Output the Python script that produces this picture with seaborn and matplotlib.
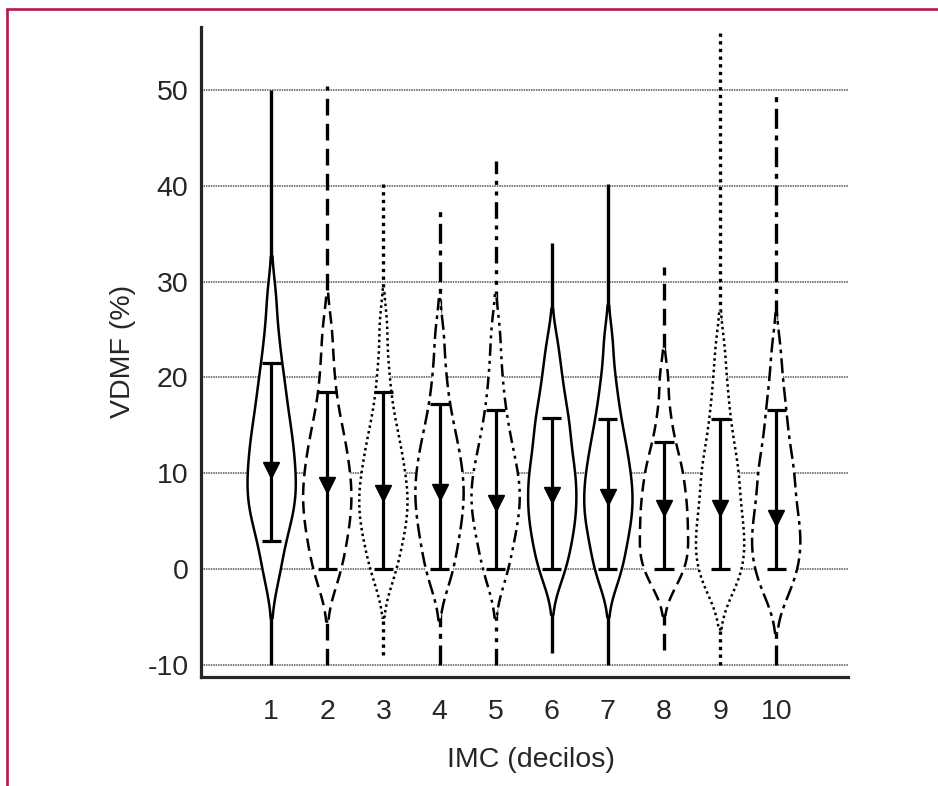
import numpy as np
import pandas as pd
import matplotlib
matplotlib.use("Agg")
import matplotlib.pyplot as plt
from matplotlib.lines import Line2D
import seaborn as sns

# ---------------------------------------------------------------------------
# Data
# core_* : quantile-like samples giving the body of each violin
# vdmf_min / vdmf_max : extremes reached by the thin tails
# ---------------------------------------------------------------------------

deciles = ["1", "2", "3", "4", "5", "6", "7", "8", "9", "10"]

core_d1 = [-1.0, 0.9, 2.8, 4.1, 5.2, 6.0, 6.8, 7.6, 8.4, 9.1, 9.9, 10.7,
           11.6, 12.5, 13.4, 14.2, 15.2, 16.4, 17.7, 19.0, 20.4, 22.4, 24.8, 28.6]
core_d2 = [-1.7, -0.4, 0.9, 1.9, 2.9, 3.8, 4.6, 5.4, 6.2, 6.9, 7.6, 8.3,
           9.1, 9.8, 10.6, 11.5, 12.4, 13.3, 14.3, 15.6, 17.1, 19.2, 21.8, 25.1]
core_d3 = [-1.4, -0.2, 1.1, 2.1, 3.0, 3.8, 4.6, 5.3, 6.0, 6.7, 7.3, 8.0,
           8.7, 9.4, 10.2, 11.0, 11.9, 12.8, 13.8, 15.0, 16.5, 18.6, 21.3, 25.5]
core_d4 = [-1.7, -0.4, 0.8, 1.9, 2.9, 3.8, 4.6, 5.4, 6.2, 6.9, 7.6, 8.3,
           9.0, 9.7, 10.5, 11.3, 12.1, 13.0, 14.0, 15.2, 16.6, 18.5, 21.0, 24.5]
core_d5 = [-1.4, -0.2, 1.1, 2.2, 3.1, 4.0, 4.8, 5.5, 6.2, 6.9, 7.6, 8.2,
           8.9, 9.6, 10.3, 11.1, 12.0, 13.0, 14.1, 15.4, 17.0, 19.0, 21.6, 25.0]
core_d6 = [-1.1, 0.2, 1.4, 2.4, 3.4, 4.3, 5.1, 5.8, 6.6, 7.4, 8.1, 8.9,
           9.7, 10.4, 11.2, 12.2, 13.2, 14.3, 15.3, 16.2, 17.6, 19.2, 21.0, 23.6]
core_d7 = [-1.4, -0.2, 1.0, 2.0, 3.0, 3.9, 4.7, 5.4, 6.1, 6.8, 7.5, 8.2,
           8.9, 9.6, 10.4, 11.2, 12.1, 13.0, 14.0, 15.2, 16.6, 18.3, 20.5, 24.0]
core_d8 = [-1.8, -1.0, -0.1, 0.6, 1.2, 1.8, 2.4, 3.0, 3.7, 4.4, 5.1, 5.8,
           6.3, 7.0, 7.7, 8.5, 9.3, 10.0, 10.8, 11.7, 12.9, 14.4, 16.6, 20.0]
core_d9 = [-2.5, -1.6, -0.8, 0.1, 0.8, 1.5, 2.2, 2.9, 3.7, 4.4, 5.1, 6.0,
           6.8, 7.8, 8.8, 9.8, 10.4, 11.5, 12.7, 14.1, 15.6, 17.6, 19.9, 23.2]
core_d10 = [-2.9, -1.8, -0.9, 0.05, 0.75, 1.45, 2.15, 2.85, 3.6, 4.25, 5.0, 5.8,
            6.65, 7.6, 8.6, 9.8, 10.3, 11.4, 12.6, 14.1, 15.7, 17.3, 19.6, 22.9]

vdmf_min = [-10, -10, -9, -10, -10, -8.8, -10, -8.5, -10, -10]
vdmf_max = [50, 50.4, 40.4, 38, 42.6, 34, 40.2, 31.5, 56, 50]

# inner bars (lower cap, upper cap) and mean marker
cap_low = [2.9, 0, 0, 0, 0, 0, 0, 0, 0, 0]
cap_high = [21.5, 18.5, 18.5, 17.2, 16.6, 15.8, 15.7, 13.3, 15.7, 16.6]
means = [10.3, 8.8, 7.9, 8.0, 6.9, 7.7, 7.5, 6.4, 6.4, 5.3]

# ---------------------------------------------------------------------------
# Styling
# ---------------------------------------------------------------------------

sns.set_style("white")
plt.rcParams["font.family"] = ["Liberation Sans", "DejaVu Sans"]

line_styles = [
    "-", (0, (5, 2.5)), (0, (1, 1.3)), (0, (6, 2, 1.5, 2)), (0, (5, 2, 1.2, 2, 1.2, 2)),
    "-", "-", (0, (5, 2.5)), (0, (1, 1.3)), (0, (6, 2, 1.5, 2)),
]

groups = [core_d1, core_d2, core_d3, core_d4, core_d5,
          core_d6, core_d7, core_d8, core_d9, core_d10]
df = pd.DataFrame({
    "decil": np.repeat(deciles, [len(g) for g in groups]),
    "vdmf": np.concatenate(groups),
})

fig = plt.figure(figsize=(9.38, 7.86), dpi=100)
ax = fig.add_axes([0.2143, 0.139, 0.6898, 0.827])

sns.violinplot(data=df, x="decil", y="vdmf", order=deciles, cut=1.7, inner=None,
               density_norm="width", width=0.86, bw_adjust=0.6,
               color="white", linecolor="black", linewidth=1.8, saturation=1, ax=ax)

# line style per violin, white body hides gridlines and tails
for coll, ls in zip(ax.collections, line_styles):
    coll.set_linestyle(ls)
    coll.set_edgecolor("black")
    coll.set_facecolor("white")
    coll.set_zorder(2)

pos = np.arange(len(deciles))

# thin tails down to min and up to max (under the violin bodies)
ax.vlines(pos, vdmf_min, vdmf_max, colors="black", linestyles=line_styles, lw=2.4, zorder=1.5)

ax.vlines(pos, cap_low, cap_high, color="black", lw=2.3, zorder=3)
ax.hlines(cap_high, pos - 0.17, pos + 0.17, color="black", lw=2.3, zorder=3)
ax.hlines(cap_low, pos - 0.17, pos + 0.17, color="black", lw=2.3, zorder=3)
ax.plot(pos, means, linestyle="none", marker="v", ms=11, color="black", zorder=4)

# axes
ax.set_xlim(-1.25, 10.28)
ax.set_ylim(-11.25, 56.6)
ax.set_yticks(np.arange(-10, 56, 5))
ax.set_yticklabels([str(v) if v % 10 == 0 else "" for v in range(-10, 56, 5)])
for v in range(-10, 51, 10):
    ax.axhline(v, color="#555555", lw=1.1, ls=(0, (1, 0.6)), zorder=0.5)

sns.despine(ax=ax)
ax.spines["left"].set_linewidth(2.3)
ax.spines["bottom"].set_linewidth(2.3)
ax.tick_params(axis="both", direction="in", length=6, width=1.1, color="black",
               labelsize=20.5)
ax.tick_params(axis="y", pad=9)
ax.tick_params(axis="x", pad=16)
ax.set_xlabel("IMC (decilos)", fontsize=20.5, labelpad=16)
ax.xaxis.label.set_x(0.51)
ax.set_ylabel("VDMF (%)", fontsize=20.5, labelpad=8)

# crimson frame
frame_color = "#B5164B"
fig.add_artist(Line2D([7 / 938, 1], [1 - 9 / 786, 1 - 9 / 786], color=frame_color, lw=1.9))
fig.add_artist(Line2D([7 / 938, 7 / 938], [0, 1 - 9 / 786], color=frame_color, lw=1.9))

fig.savefig("out.png", dpi=100)
